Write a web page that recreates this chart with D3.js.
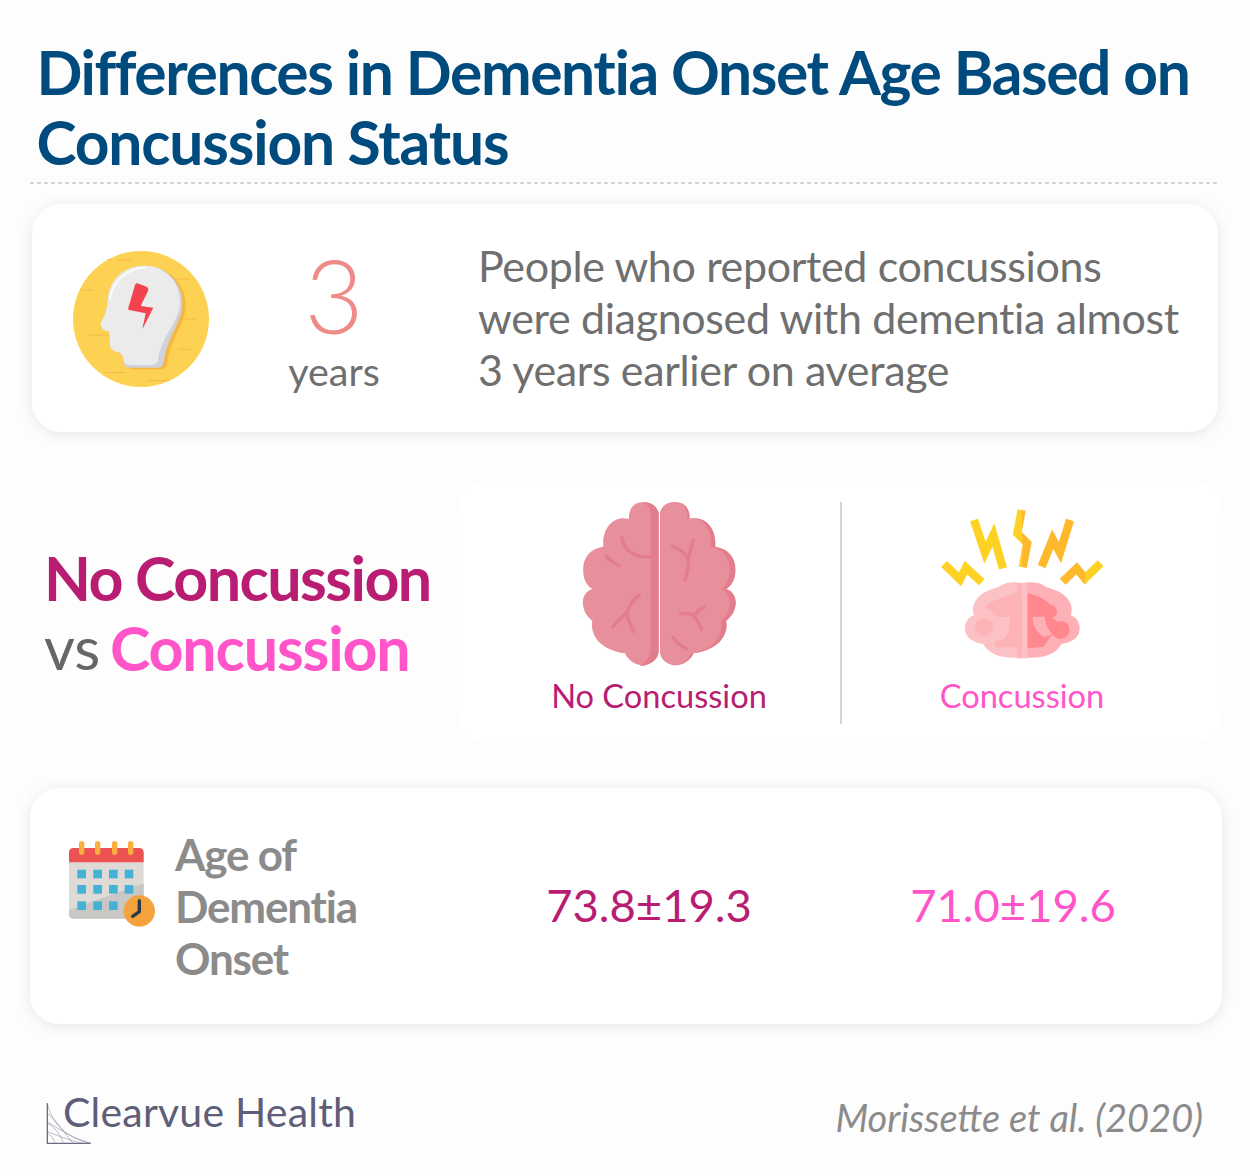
<!DOCTYPE html>
<html>
<head>
<meta charset="utf-8">
<script src="https://cdn.jsdelivr.net/npm/d3@7"></script>
<style>
  html, body { margin: 0; padding: 0; background: #fdfdfe; }
  text { font-family: Lato, sans-serif; }
</style>
</head>
<body>
<div id="chart"></div>
<script>
var titleLines = ["Differences in Dementia Onset Age Based on", "Concussion Status"];
var titleSpacing = [-1.4, -1.15];
var statValue = "3";
var statUnit = "years";
var statLines = ["People who reported concussions", "were diagnosed with dementia almost", "3 years earlier on average"];
var groups = ["No Concussion", "Concussion"];
var groupColors = ["#b81d72", "#ff55c9"];
var onsetMeans = [73.8, 71.0];
var onsetSds = [19.3, 19.6];
var rowLabel = ["Age of", "Dementia", "Onset"];
var brand = "Clearvue Health";
var source = "Morissette et al. (2020)";

var width = 1250, height = 1176;
var svg = d3.select("#chart").append("svg")
  .attr("width", width)
  .attr("height", height)
  .style("display", "block");

var defs = svg.append("defs");
var shadow = defs.append("filter").attr("id", "soft")
  .attr("x", "-5%").attr("y", "-10%").attr("width", "110%").attr("height", "125%");
shadow.append("feDropShadow")
  .attr("dx", 0).attr("dy", 2).attr("stdDeviation", 7)
  .attr("flood-color", "#000").attr("flood-opacity", 0.09);

var hardSplit = function(id, at, left, right) {
  var g = defs.append("linearGradient").attr("id", id)
    .attr("gradientUnits", "userSpaceOnUse")
    .attr("x1", 0).attr("x2", 600).attr("y1", 0).attr("y2", 0);
  [[at / 600, left], [at / 600, right]].forEach(function(s) {
    g.append("stop").attr("offset", s[0]).attr("stop-color", s[1]);
  });
};
hardSplit("spark3", 277, "#fdd225", "#fdb82b");
hardSplit("spark5", 465, "#fdb82b", "#fdd225");

var label = function(parent, x, y, str, size, fill, opts) {
  opts = opts || {};
  return parent.append("text")
    .attr("x", x).attr("y", y)
    .attr("font-size", size)
    .attr("fill", fill)
    .attr("font-weight", opts.weight || 400)
    .attr("font-style", opts.style || "normal")
    .attr("text-anchor", opts.anchor || "start")
    .attr("letter-spacing", opts.spacing || 0)
    .text(str);
};

// title
titleLines.forEach(function(t, i) {
  label(svg, 36.5, 95 + i * 70, t, 60.5, "#004b7d", {weight: 700, spacing: titleSpacing[i]});
});
svg.append("line")
  .attr("x1", 30).attr("x2", 1220).attr("y1", 183).attr("y2", 183)
  .attr("stroke", "#adadad").attr("stroke-width", 1.2).attr("stroke-dasharray", "4 3");

// cards
var card = function(x, y, w, h, withShadow) {
  var r = svg.append("rect")
    .attr("x", x).attr("y", y).attr("width", w).attr("height", h)
    .attr("rx", 30).attr("fill", "#fff");
  if (withShadow) r.attr("filter", "url(#soft)");
};
card(32, 204, 1186, 228, true);
card(458, 482, 764, 260, false);
card(30, 788, 1192, 236, true);

// icons are traced in zoom coordinates, 3x the page
var icon = function(x, y) {
  return svg.append("g").attr("transform", "translate(" + x + "," + y + ") scale(0.3333)");
};
var shape = function(g, d, fill) {
  return g.append("path").attr("d", d).attr("fill", fill);
};
var stroke = function(g, d, col, w) {
  return g.append("path").attr("d", d).attr("fill", "none")
    .attr("stroke", col).attr("stroke-width", w).attr("stroke-linecap", "round");
};

// head with bolt
var head = icon(50, 230);
head.append("circle").attr("cx", 273).attr("cy", 267).attr("r", 204).attr("fill", "#fdd253");
[[200, 90, 245, 90], [170, 90, 185, 90], [375, 147, 418, 147], [90, 180, 130, 180], [400, 267, 437, 267],
 [110, 315, 175, 315], [385, 358, 425, 358], [165, 428, 228, 428], [295, 452, 358, 452]].forEach(function(s) {
  head.append("line").attr("x1", s[0]).attr("y1", s[1]).attr("x2", s[2]).attr("y2", s[3])
    .attr("stroke", "#f3bb4a").attr("stroke-width", 3);
});
var headPath = "M152,280 C165,255 172,240 174,205 C180,145 225,107 285,107 C350,107 397,160 397,220 C397,280 350,320 342,395 Q340,413 320,413 L240,413 Q222,413 221,395 Q220,368 200,366 Q180,362 180,340 L178,305 Q150,300 152,280 Z";
shape(head, headPath, "#f6b742").attr("transform", "translate(10,5)");
shape(head, headPath, "#cfd2da");
shape(head, "M152,280 C165,255 172,240 174,205 C180,145 225,107 285,107 C345,107 390,155 390,215 C390,275 335,315 325,385 Q323,405 305,405 L240,405 Q222,405 221,390 Q220,368 200,366 Q180,362 180,340 L178,305 Q150,300 152,280 Z", "#ebebec");
stroke(head, "M180,205 C188,155 230,115 285,113", "#ffffff", 5);
shape(head, "M262,160 L290,170 Q298,175 293,185 L272,228 L310,233 L277,298 L287,250 L238,240 Q232,238 236,230 L255,165 Q257,159 262,160 Z", "#f3434f");

// brain outline, left half; right half mirrors it
var brainHalf = "M296,70 C290,45 270,35 245,37 C220,38 205,60 207,87 C165,75 125,110 130,170 C90,175 65,205 70,250 C72,275 85,290 97,297 C70,305 65,335 70,350 C75,375 90,385 97,393 C90,430 115,480 195,490 C205,515 240,535 265,522 C285,515 296,500 296,480 Z";
var noBrain = icon(560, 490);
shape(noBrain, brainHalf, "#e88f9c");
shape(noBrain, brainHalf, "#e37d8c").attr("transform", "translate(596,0) scale(-1,1)");
shape(noBrain, brainHalf, "#e88f9c").attr("transform", "translate(572.3,0) scale(-0.92,1)");
shape(noBrain, "M272,75 C270,50 258,39 245,37 C270,35 290,45 296,70 L296,480 C296,500 285,515 265,522 C252,528 245,528 240,528 C262,512 272,495 272,480 Z", "#e37d8c");
[["M186,143 C190,180 225,205 270,200"], ["M138,197 C150,212 165,222 178,227"],
 ["M337,168 C355,175 375,190 383,205"], ["M400,150 C395,170 390,185 385,205 C387,230 382,250 375,270"],
 ["M238,315 C215,330 208,350 200,368"], ["M158,410 C175,390 190,375 200,368 C205,390 212,410 222,425"],
 ["M362,372 C380,370 395,370 402,378"], ["M432,352 C420,358 410,365 402,378 C412,390 420,403 424,418"],
 ["M340,442 C350,458 365,470 380,477"]].forEach(function(d) {
  stroke(noBrain, d[0], "#e37d8c", 10);
});

// brain with sparks
var hit = icon(930, 500);
var hitHalf = "M277,250 C260,245 225,245 205,262 C175,270 150,280 135,305 C125,325 130,340 132,345 C110,355 100,375 107,400 C115,420 140,430 160,432 C175,465 225,478 277,472 Z";
shape(hit, hitHalf, "#fcc1c4");
shape(hit, hitHalf, "#fdb0b5").attr("transform", "translate(554,0) scale(-1,1)");
shape(hit, "M262,278 L262,442 L195,442 L195,420 C225,425 240,405 240,350 L205,352 C195,340 180,330 165,320 C185,300 225,290 262,278 Z", "#fdb2b6");
hit.append("circle").attr("cx", 162).attr("cy", 382).attr("r", 27).attr("fill", "#fdb2b6");
shape(hit, "M292,278 C315,285 345,295 358,312 C385,318 388,342 368,354 L385,366 L385,410 L365,405 L340,440 L292,445 Z", "#ff878d");
hit.append("circle").attr("cx", 392).attr("cy", 390).attr("r", 27).attr("fill", "#ff878d");
shape(hit, "M308,350 L345,350 C345,370 355,392 368,402 L345,412 C322,402 308,378 308,350 Z", "#fdb0b5");
hit.append("rect").attr("x", 262).attr("y", 250).attr("width", 15).attr("height", 225).attr("fill", "#fdb2b6");
hit.append("rect").attr("x", 277).attr("y", 250).attr("width", 15).attr("height", 225).attr("fill", "#fcc1c4");
var sparks = [
  ["M42,192 L90,238 L108,203 L155,247", "#fdd225", 25],
  ["M132,60 L165,158 L190,105 L219,205", "#fdd225", 25],
  ["M275,30 L262,100 L292,130 L278,202", "url(#spark3)", 25],
  ["M335,200 L368,118 L390,158 L420,60", "#fdb82b", 25],
  ["M398,245 L440,205 L465,235 L512,190", "url(#spark5)", 25]
];
sparks.forEach(function(s) {
  hit.append("path").attr("d", s[0]).attr("fill", "none")
    .attr("stroke", s[1]).attr("stroke-width", s[2]).attr("stroke-miterlimit", 10);
});

// calendar
var cal = icon(55, 830);
cal.append("rect").attr("x", 42).attr("y", 54).attr("width", 224).attr("height", 212).attr("rx", 14).attr("fill", "#dedbd7");
shape(cal, "M42,240 L266,160 L266,252 Q266,266 252,266 L56,266 Q42,266 42,252 Z", "#c9c7c4");
shape(cal, "M42,97 L42,68 Q42,54 56,54 L252,54 Q266,54 266,68 L266,97 Z", "#ec5252");
[80, 128, 179, 227].forEach(function(x) {
  cal.append("rect").attr("x", x - 8).attr("y", 33).attr("width", 16).attr("height", 42).attr("rx", 8).attr("fill", "#f9ae3f");
});
[132, 178, 227].forEach(function(y, r) {
  [80, 128, 175, 222].forEach(function(x, c) {
    if (r === 2 && c === 3) return;
    cal.append("rect").attr("x", x - 13).attr("y", y - 13).attr("width", 26).attr("height", 26).attr("fill", "#45b1d6");
  });
});
cal.append("circle").attr("cx", 253).attr("cy", 243).attr("r", 47).attr("fill", "#f5a13c");
stroke(cal, "M253,212 L253,245 L233,259", "#2b3a4a", 10);

// stat card
label(svg, 334, 334, statValue, 102, "#ef8b86", {weight: 300, anchor: "middle"});
label(svg, 334, 386, statUnit, 39.5, "#6f6f6f", {anchor: "middle"});
statLines.forEach(function(t, i) {
  label(svg, 478, 282 + i * 52, t, 43, "#6f6f6f", {spacing: -0.35});
});

// heading for the comparison
label(svg, 44, 601, groups[0], 61, groupColors[0], {weight: 700, spacing: -1.6});
label(svg, 44, 670, "vs ", 60, "#666", {});
label(svg, 110, 671, groups[1], 61, groupColors[1], {weight: 700, spacing: -1.2});

// group columns
var x = d3.scaleOrdinal().domain(groups).range([659, 1022]);
var valueX = d3.scaleOrdinal().domain(groups).range([649, 1013]);
svg.append("line")
  .attr("x1", 841).attr("x2", 841).attr("y1", 502).attr("y2", 724)
  .attr("stroke", "#c4c4c4").attr("stroke-width", 1.5);
groups.forEach(function(g, i) {
  label(svg, x(g), 708, g, 32.6, groupColors[i], {anchor: "middle"});
  label(svg, valueX(g), 922, onsetMeans[i].toFixed(1) + "±" + onsetSds[i].toFixed(1), 45.4, groupColors[i], {anchor: "middle"});
});
rowLabel.forEach(function(t, i) {
  label(svg, 175, 871 + i * 52, t, 44, "#8b8b8b", {weight: 700, spacing: -1.2});
});

// footer
var logo = svg.append("g").attr("transform", "translate(30,1080) scale(0.3333)");
logo.append("path").attr("d", "M52,70 L52,190 L182,190").attr("fill", "none").attr("stroke", "#6a6a85").attr("stroke-width", 4);
[["M52,70 C65,130 110,175 182,190"], ["M52,100 C80,120 110,170 130,190"], ["M52,130 C75,140 95,170 100,190"], ["M52,160 C65,165 72,180 75,190"],
 ["M52,125 C90,150 130,175 182,190"], ["M52,155 C90,170 130,185 160,190"]].forEach(function(d) {
  logo.append("path").attr("d", d[0]).attr("fill", "none").attr("stroke", "#7b7b95").attr("stroke-width", 1.5);
});
label(svg, 63, 1127, brand, 41, "#5e5e78", {weight: 400, spacing: 0.2});
label(svg, 1203, 1132, source, 38, "#8b8b8b", {style: "italic", anchor: "end"});
</script>
</body>
</html>
